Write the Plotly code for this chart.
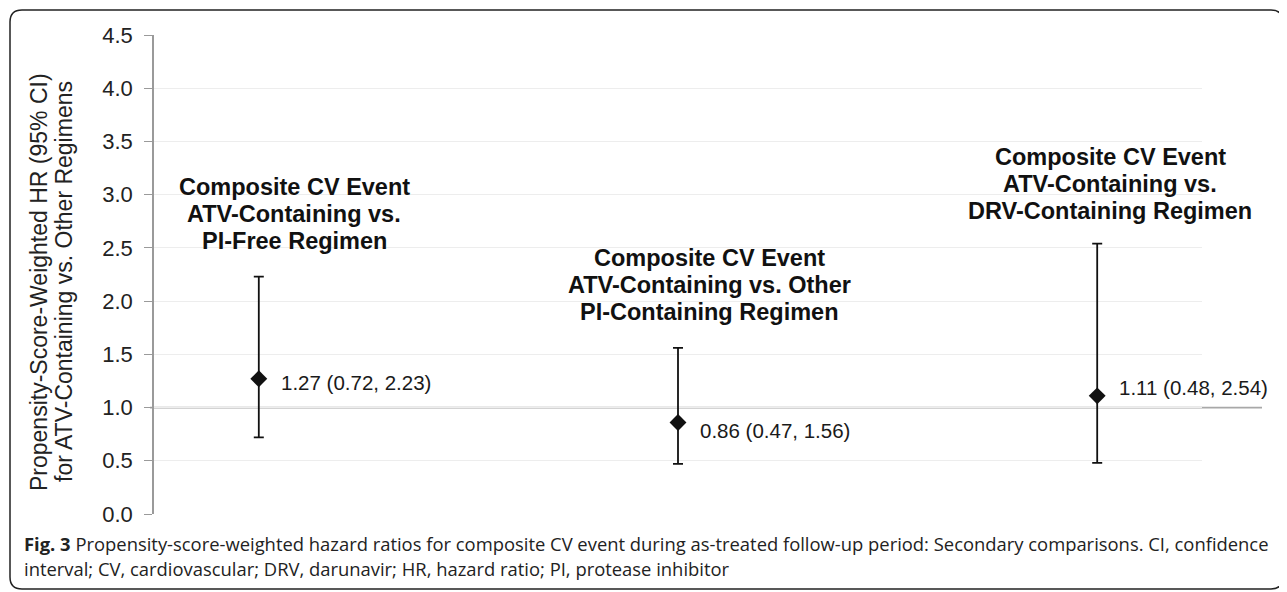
import plotly.graph_objects as go

# ---- data ----
comparisons = ["ATV vs. PI-Free", "ATV vs. Other PI", "ATV vs. DRV"]
x_pos = [1, 2, 3]
hr = [1.27, 0.86, 1.11]
ci_low = [0.72, 0.47, 0.48]
ci_high = [2.23, 1.56, 2.54]
title_lines = [
    ["Composite CV Event", "ATV-Containing vs.", "PI-Free Regimen"],
    ["Composite CV Event", "ATV-Containing vs. Other", "PI-Containing Regimen"],
    ["Composite CV Event", "ATV-Containing vs.", "DRV-Containing Regimen"],
]
y_ticks = [0.0, 0.5, 1.0, 1.5, 2.0, 2.5, 3.0, 3.5, 4.0, 4.5]
y_title_lines = ["Propensity-Score-Weighted HR (95% CI)",
                 "for ATV-Containing vs. Other Regimens"]
caption_lines = [
    "<b>Fig. 3</b> Propensity-score-weighted hazard ratios for composite CV event during as-treated follow-up period: Secondary comparisons. CI, confidence",
    "interval; CV, cardiovascular; DRV, darunavir; HR, hazard ratio; PI, protease inhibitor",
]

# ---- layout helpers (placement only) ----
OFF = 8  # page body margin
W, H = 1279, 584
L, R, T, B = 146, 85, 27, 78
pw, ph = W - L - R, H - T - B

def px(xs):
    return (xs - OFF - L) / pw

def py(ys):
    return (H - B - (ys - OFF)) / ph

title_x = [1.085, 2.076, 3.031]
title_top = [3.07, 2.405, 3.354]
title_gap = 27
label_shift = [-4, -8, 8]

FONT = "Liberation Sans, Arial"

fig = go.Figure()
fig.add_trace(go.Scatter(
    x=x_pos, y=hr, mode="markers",
    marker=dict(symbol="diamond", size=13, color="#111111"),
    error_y=dict(type="data", symmetric=False,
                 array=[h - m for h, m in zip(ci_high, hr)],
                 arrayminus=[m - l for m, l in zip(hr, ci_low)],
                 color="#111111", thickness=1.8, width=5),
    showlegend=False, hoverinfo="skip",
))

# reference line at HR = 1
fig.add_shape(type="line", xref="paper", yref="y",
              x0=px(150), x1=px(1262), y0=1, y1=1,
              line=dict(color="#a8a8a8", width=1.8), layer="below")

for i in range(3):
    for j, line in enumerate(title_lines[i]):
        fig.add_annotation(x=title_x[i], y=title_top[i], xref="x", yref="y",
                           yshift=-title_gap * j,
                           text="<b>" + line + "</b>", showarrow=False,
                           font=dict(family=FONT, size=23.5, color="#111111"),
                           xanchor="center", yanchor="middle")
    fig.add_annotation(x=x_pos[i], y=hr[i], xref="x", yref="y",
                       text=f"{hr[i]:.2f} ({ci_low[i]:.2f}, {ci_high[i]:.2f})",
                       showarrow=False, xanchor="left", yanchor="middle",
                       xshift=20, yshift=label_shift[i],
                       font=dict(family=FONT, size=20.5, color="#1a1a1a"))

# y-axis title (two rotated lines)
for j, (line, xs) in enumerate(zip(y_title_lines, [39, 64])):
    fig.add_annotation(x=px(xs), y=py(282), xref="paper", yref="paper",
                       text=line, showarrow=False, textangle=-90,
                       xanchor="center", yanchor="middle",
                       font=dict(family=FONT, size=23, color="#222222"))

# caption
cap_font = dict(family="Open Sans", size=18.4, color="#222222")
for line, ys in zip(caption_lines, [543, 568]):
    fig.add_annotation(x=px(22), y=py(ys), xref="paper", yref="paper", showarrow=False,
                       xanchor="left", yanchor="middle", font=cap_font, text=line)

# rounded border
x0, x1, y0, y1, r = 10, 1283, 10, 589, 12
path = (f"M {px(x0 + r)} {py(y0)} L {px(x1 - r)} {py(y0)} Q {px(x1)} {py(y0)} {px(x1)} {py(y0 + r)} "
        f"L {px(x1)} {py(y1 - r)} Q {px(x1)} {py(y1)} {px(x1 - r)} {py(y1)} "
        f"L {px(x0 + r)} {py(y1)} Q {px(x0)} {py(y1)} {px(x0)} {py(y1 - r)} "
        f"L {px(x0)} {py(y0 + r)} Q {px(x0)} {py(y0)} {px(x0 + r)} {py(y0)} Z")
fig.add_shape(type="path", xref="paper", yref="paper", path=path,
              line=dict(color="#222222", width=1.5))

fig.update_layout(
    width=W, height=H,
    margin=dict(l=L, r=R, t=T, b=B),
    paper_bgcolor="white", plot_bgcolor="white",
    xaxis=dict(range=[0.75, 3.25], showgrid=False, zeroline=False,
               showticklabels=False, showline=False, ticks=""),
    yaxis=dict(range=[0, 4.5], tickvals=y_ticks, ticktext=[f"{v:.1f}" for v in y_ticks],
               showgrid=True, gridcolor="#ededed", gridwidth=1.4,
               zeroline=False, showline=True, linecolor="#9a9a9a", linewidth=1.5,
               ticks="outside", ticklen=8, tickcolor="#9a9a9a", tickwidth=1.3,
               ticklabelstandoff=7,
               tickfont=dict(family=FONT, size=22, color="#222222")),
)

fig.write_html("out.html")
